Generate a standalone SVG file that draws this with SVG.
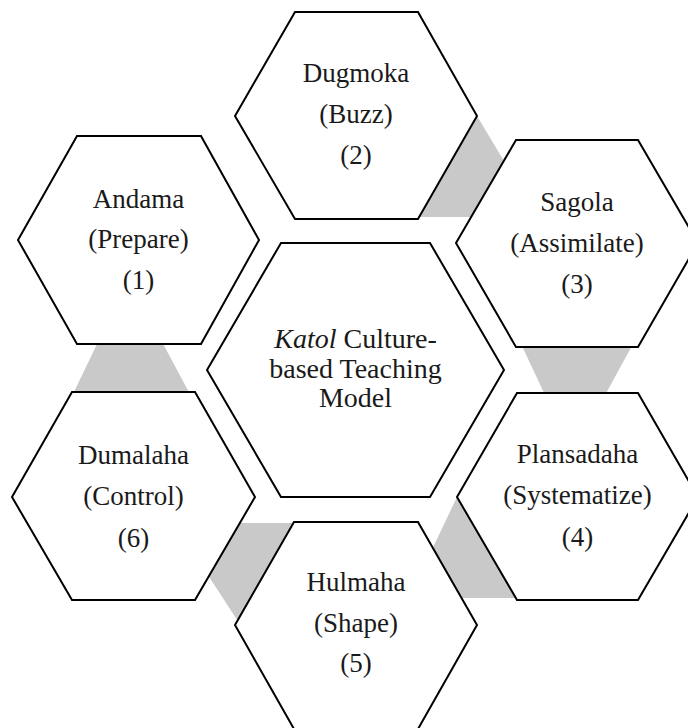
<svg xmlns="http://www.w3.org/2000/svg" width="688" height="728" viewBox="0 0 688 728">
<style>
.hex{fill:#fff;stroke:#000;stroke-width:2}
.con{fill:#c9c9c9;stroke:none}
text{font-family:"Liberation Serif","Times New Roman",serif;font-size:27px;fill:#1a1a1a;text-anchor:middle}
.c{font-size:28px}
</style>
<rect width="688" height="728" fill="#fff"/>
<g id="connectors">
<polygon class="con" points="99,340 161,340 191,396 72,396"/>
<polygon class="con" points="477,116 510,171 510,217 415,217"/>
<polygon class="con" points="521,344 633,344 604,397 546,397"/>
<polygon class="con" points="457,497 427,560 427,598 520,598"/>
<polygon class="con" points="198,523 300,523 247,635 198,560"/>
</g>
<g id="node1">
<polygon class="hex" points="18,240 77,136 201,136 259,240 201,344 77,344"/>
<text x="138.5" y="208">Andama</text>
<text x="138.5" y="248">(Prepare)</text>
<text x="138.5" y="289">(1)</text>
</g>
<g id="node2">
<polygon class="hex" points="235,116 295,12 418,12 477,116 418,219 295,219"/>
<text x="356" y="82">Dugmoka</text>
<text x="356" y="123">(Buzz)</text>
<text x="356" y="164">(2)</text>
</g>
<g id="node3">
<polygon class="hex" points="456,243 516,140 638,140 698,243 638,347 516,347"/>
<text x="577" y="211">Sagola</text>
<text x="577" y="252">(Assimilate)</text>
<text x="577" y="293">(3)</text>
</g>
<g id="center">
<polygon class="hex" points="207,370 281,243 430,243 504,370 430,497 281,497"/>
<text class="c" x="355.5" y="348"><tspan font-style="italic">Katol</tspan> Culture-</text>
<text class="c" x="355.5" y="378">based Teaching</text>
<text class="c" x="355.5" y="407">Model</text>
</g>
<g id="node4">
<polygon class="hex" points="457,497 517,393 638,393 698,497 638,600 517,600"/>
<text x="577.5" y="463">Plansadaha</text>
<text x="577.5" y="504">(Systematize)</text>
<text x="577.5" y="546">(4)</text>
</g>
<g id="node5">
<polygon class="hex" points="235,625 294,522 418,522 477,625 418,729 294,729"/>
<text x="356" y="591">Hulmaha</text>
<text x="356" y="632">(Shape)</text>
<text x="356" y="672">(5)</text>
</g>
<g id="node6">
<polygon class="hex" points="12,497 72,392 195,392 255,497 195,600 72,600"/>
<text x="133.5" y="464">Dumalaha</text>
<text x="133.5" y="505">(Control)</text>
<text x="133.5" y="547">(6)</text>
</g>
</svg>
